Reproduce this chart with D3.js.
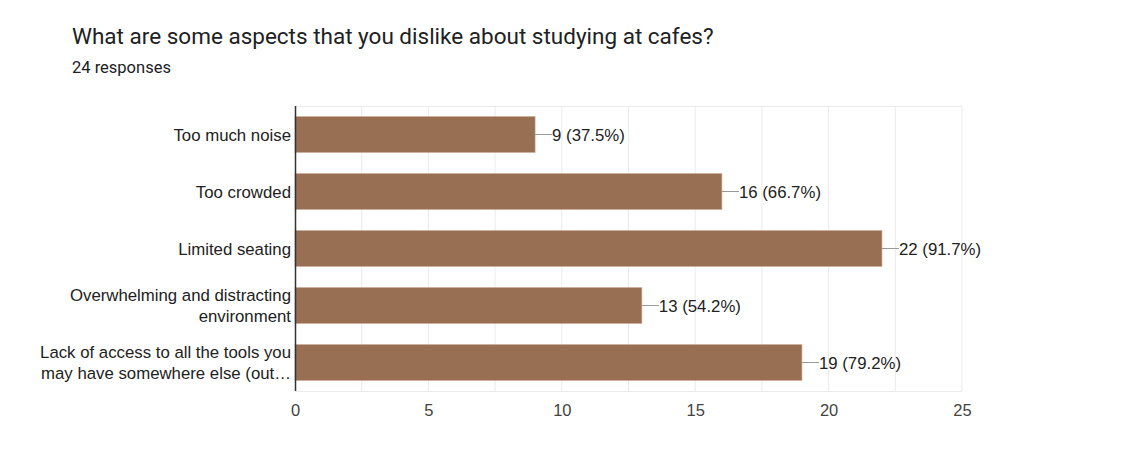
<!DOCTYPE html>
<html>
<head>
<meta charset="utf-8">
<script src="https://cdn.jsdelivr.net/npm/d3@7"></script>
<style>
  body { margin: 0; background: #fff; }
  svg { display: block; }
</style>
</head>
<body>
<svg width="1130" height="475"></svg>
<script>
// chart data
const categories = [
    ["Too much noise"],
    ["Too crowded"],
    ["Limited seating"],
    ["Overwhelming and distracting", "environment"],
    ["Lack of access to all the tools you", "may have somewhere else (out\u2026"]
];
const counts = [9, 16, 22, 13, 19];
const percents = ["37.5%", "66.7%", "91.7%", "54.2%", "79.2%"];
const xTicks = [0, 5, 10, 15, 20, 25];
const gridTicks = [2.5, 5, 7.5, 10, 12.5, 15, 17.5, 20, 22.5, 25];

const svg = d3.select("svg");

const plotLeft = 295, plotRight = 962, plotTop = 106, plotBottom = 391;

const x = d3.scaleLinear().domain([0, 25]).range([plotLeft, plotRight]);
const y = d3.scaleBand()
    .domain(d3.range(categories.length))
    .range([plotTop, plotBottom])
    .paddingInner(0.37)
    .paddingOuter(0.185);

// title
svg.append("text")
    .attr("x", 72).attr("y", 44)
    .style("font-family", "Roboto")
    .style("font-size", "22.5px")
    .style("fill", "#202124")
    .text("What are some aspects that you dislike about studying at cafes?");

svg.append("text")
    .attr("x", 72).attr("y", 73)
    .style("font-family", "Roboto")
    .style("font-size", "16.5px")
    .style("fill", "#202124")
    .text("24 responses");

// grid
svg.append("g")
    .selectAll("line")
    .data(gridTicks)
    .enter().append("line")
    .attr("x1", d => x(d)).attr("x2", d => x(d))
    .attr("y1", plotTop).attr("y2", plotBottom)
    .style("stroke", "#ebebeb");

svg.append("line")
    .attr("x1", plotLeft).attr("x2", plotRight)
    .attr("y1", plotTop + 0.5).attr("y2", plotTop + 0.5)
    .style("stroke", "#ebebeb");
svg.append("line")
    .attr("x1", plotLeft).attr("x2", plotRight)
    .attr("y1", plotBottom + 0.5).attr("y2", plotBottom + 0.5)
    .style("stroke", "#ebebeb");

// x tick labels
const xAxis = svg.append("g")
    .attr("transform", "translate(0," + plotBottom + ")")
    .call(d3.axisBottom(x).tickValues(xTicks).tickSize(0).tickPadding(13));
xAxis.select(".domain").remove();
xAxis.selectAll("text")
    .style("font-family", "Liberation Sans, Arial")
    .style("font-size", "16.5px")
    .style("fill", "#444");

// bars
svg.append("g")
    .selectAll("rect")
    .data(counts)
    .enter().append("rect")
    .attr("x", x(0))
    .attr("y", (d, i) => y(i))
    .attr("width", d => x(d) - x(0))
    .attr("height", y.bandwidth())
    .style("fill", "#986f52")
    .style("stroke", "#c9a892")
    .style("stroke-opacity", .6)
    .style("stroke-width", 1);

// value labels with connector lines
const vals = svg.append("g")
    .selectAll("g")
    .data(counts)
    .enter().append("g")
    .attr("transform", (d, i) => "translate(" + x(d) + "," + (y(i) + y.bandwidth() / 2) + ")");

vals.append("line")
    .attr("x1", 0).attr("x2", 17)
    .style("stroke", "#999");

vals.append("text")
    .attr("x", 17)
    .attr("dy", ".36em")
    .style("font-family", "Liberation Sans, Arial")
    .style("font-size", "16.8px")
    .style("fill", "#222")
    .text((d, i) => d + " (" + percents[i] + ")");

// category labels
const cats = svg.append("g")
    .selectAll("text")
    .data(categories)
    .enter().append("text")
    .attr("x", plotLeft - 4)
    .attr("y", (d, i) => y(i) + y.bandwidth() / 2)
    .attr("text-anchor", "end")
    .style("font-family", "Liberation Sans, Arial")
    .style("font-size", "16.8px")
    .style("fill", "#222");

cats.selectAll("tspan")
    .data(d => d.map((t, k) => ({ t: t, k: k, n: d.length })))
    .enter().append("tspan")
    .attr("x", plotLeft - 4)
    .attr("dy", d => d.k === 0 ? (0.36 - (d.n - 1) * 0.62) + "em" : "1.24em")
    .text(d => d.t);

// y axis line
svg.append("line")
    .attr("x1", plotLeft + 0.5).attr("x2", plotLeft + 0.5)
    .attr("y1", plotTop).attr("y2", plotBottom)
    .style("stroke", "#333")
    .style("stroke-width", 1.5);
</script>
</body>
</html>
